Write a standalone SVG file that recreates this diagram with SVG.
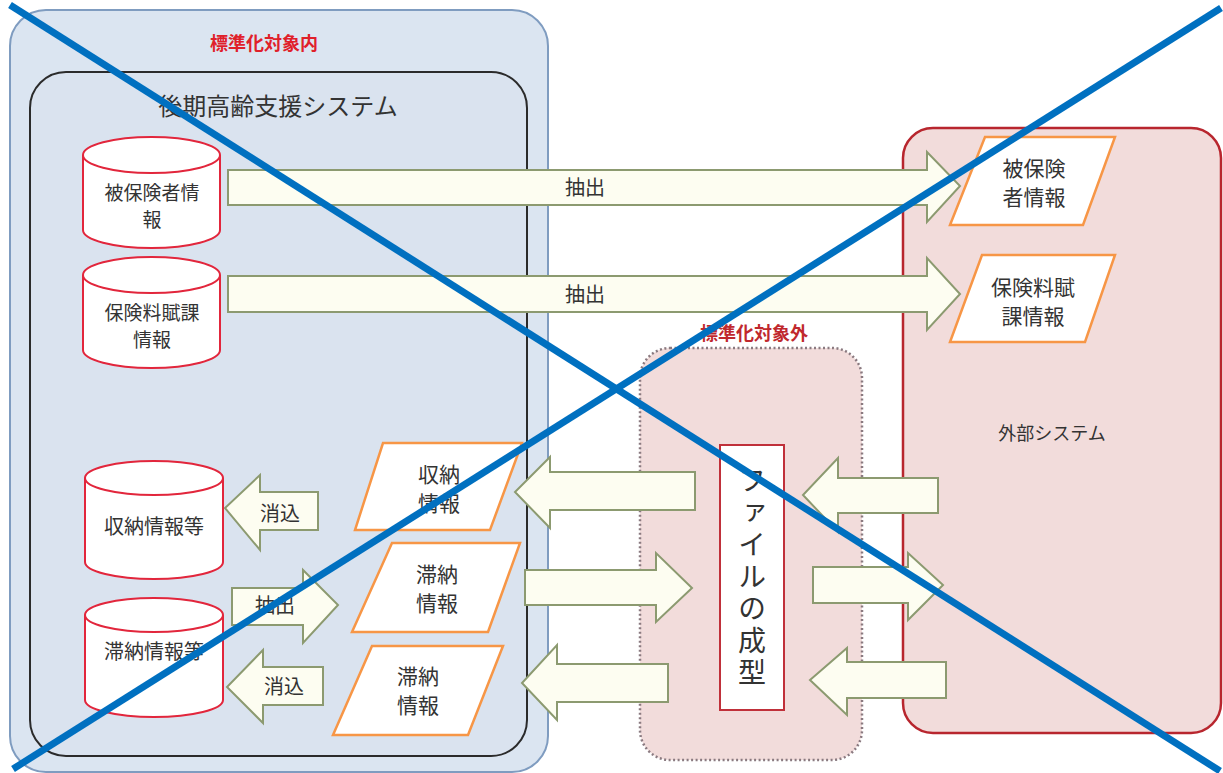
<svg xmlns="http://www.w3.org/2000/svg" width="1223" height="773" viewBox="0 0 1223 773">
<style>
text{font-family:"Noto Sans CJK JP","Noto Sans",sans-serif;fill:#333;}
.cyl{fill:#fff;stroke:#e2263c;stroke-width:2;}
.par{fill:#fff;stroke:#f79646;stroke-width:2.5;}
.arr{fill:#fdfdf1;stroke:#8c9a70;stroke-width:2;}
.t19{font-size:19px;text-anchor:middle;}
.t20{font-size:20px;text-anchor:middle;}
.t21{font-size:21px;text-anchor:middle;}
.red{font-weight:bold;text-anchor:middle;}
</style>
<rect width="1223" height="773" fill="#fff"/>
<g id="scope-in">
<rect x="10" y="10" width="538" height="762" rx="36" fill="#dbe5f1" stroke="#7f9cc0" stroke-width="2"/>
<text class="red" x="264" y="50" font-size="18" style="fill:#e0202a">標準化対象内</text>
</g>
<g id="system">
<rect x="30" y="72" width="497" height="684" rx="36" fill="#dae3ef" stroke="#2b2b2b" stroke-width="2"/>
<text x="278" y="115" font-size="24" text-anchor="middle">後期高齢支援システム</text>
</g>
<g id="external">
<rect x="903" y="128" width="318" height="605" rx="30" fill="#f2dcdb" stroke="#b8262e" stroke-width="2.5"/>
<text x="1052" y="440" font-size="18" text-anchor="middle">外部システム</text>
</g>
<g id="scope-out">
<rect x="640" y="348" width="222" height="412" rx="30" fill="#f2dcdb" stroke="#8a7a80" stroke-width="2.5" stroke-dasharray="2 2.5"/>
<text class="red" x="754" y="340" font-size="18" style="fill:#c0282d">標準化対象外</text>
</g>
<g id="formatter">
<rect x="720" y="445" width="64" height="265" fill="#fff" stroke="#c0303a" stroke-width="2"/>
<text x="752" y="466" font-size="28" letter-spacing="4" style="writing-mode:vertical-rl">ファイルの成型</text>
</g>
<g id="db-insured">
<path class="cyl" d="M83,155 L83,230 A68.5,18 0 0 0 220,230 L220,155"/>
<ellipse class="cyl" cx="151.5" cy="155" rx="68.5" ry="18"/>
<text class="t19" x="152" y="200">被保険者情</text>
<text class="t19" x="152" y="227">報</text>
</g>
<g id="db-premium">
<path class="cyl" d="M83,275 L83,350 A68.5,18 0 0 0 220,350 L220,275"/>
<ellipse class="cyl" cx="151.5" cy="275" rx="68.5" ry="18"/>
<text class="t19" x="152" y="320">保険料賦課</text>
<text class="t19" x="152" y="347">情報</text>
</g>
<g id="db-receipt">
<path class="cyl" d="M85,478 L85,562 A69,17 0 0 0 223,562 L223,478"/>
<ellipse class="cyl" cx="154" cy="478" rx="69" ry="17"/>
<text class="t20" x="154" y="534">収納情報等</text>
</g>
<g id="db-arrears">
<path class="cyl" d="M85,615 L85,700 A69,17 0 0 0 223,700 L223,615"/>
<ellipse class="cyl" cx="154" cy="615" rx="69" ry="17"/>
<text class="t20" x="154" y="659">滞納情報等</text>
</g>
<g id="out-insured">
<polygon class="par" points="985,137 1115,137 1083,225 950,225"/>
<text class="t21" x="1034" y="176">被保険</text>
<text class="t21" x="1034" y="205">者情報</text>
</g>
<g id="out-premium">
<polygon class="par" points="982,255 1115,255 1085,342 950,342"/>
<text class="t21" x="1033" y="295">保険料賦</text>
<text class="t21" x="1033" y="324">課情報</text>
</g>
<g id="in-receipt">
<polygon class="par" points="383,443 522,443 490,530 355,530"/>
<text class="t21" x="439" y="482">収納</text>
<text class="t21" x="439" y="511">情報</text>
</g>
<g id="out-arrears">
<polygon class="par" points="392,543 520,543 488,632 352,632"/>
<text class="t21" x="437" y="582">滞納</text>
<text class="t21" x="437" y="611">情報</text>
</g>
<g id="in-arrears">
<polygon class="par" points="372,646 503,646 468,735 333,735"/>
<text class="t21" x="418" y="684">滞納</text>
<text class="t21" x="418" y="713">情報</text>
</g>
<g id="connectors">
<path class="arr" d="M228,170 L927,170 L927,152 L960,186 L927,222 L927,205 L228,205 Z"/>
<text class="t20" x="585" y="195">抽出</text>
<path class="arr" d="M228,276 L927,276 L927,258 L960,294 L927,330 L927,312 L228,312 Z"/>
<text class="t20" x="585" y="302">抽出</text>
<path class="arr" d="M695,472 L550,472 L550,457 L515,492 L550,528 L550,510 L695,510 Z"/>
<path class="arr" d="M525,570 L656,570 L656,553 L692,588 L656,622 L656,605 L525,605 Z"/>
<path class="arr" d="M668,664 L557,664 L557,645 L522,683 L557,720 L557,702 L668,702 Z"/>
<path class="arr" d="M938,478 L838,478 L838,458 L803,495 L838,532 L838,513 L938,513 Z"/>
<path class="arr" d="M813,567 L908,567 L908,553 L943,585 L908,620 L908,603 L813,603 Z"/>
<path class="arr" d="M946,662 L847,662 L847,648 L810,680 L847,715 L847,698 L946,698 Z"/>
<path class="arr" d="M318,492 L260,492 L260,475 L225,508 L260,550 L260,530 L318,530 Z"/>
<text class="t20" x="280" y="521">消込</text>
<path class="arr" d="M232,588 L303,588 L303,570 L338,605 L303,643 L303,625 L232,625 Z"/>
<text class="t20" x="275" y="613">抽出</text>
<path class="arr" d="M323,667 L263,667 L263,650 L227,687 L263,723 L263,705 L323,705 Z"/>
<text class="t20" x="284" y="694">消込</text>
</g>
<g id="cross" stroke="#0070c0" stroke-width="7" stroke-linecap="butt">
<line x1="10" y1="5" x2="1220" y2="771"/>
<line x1="13" y1="769" x2="1221" y2="8"/>
</g>
</svg>
